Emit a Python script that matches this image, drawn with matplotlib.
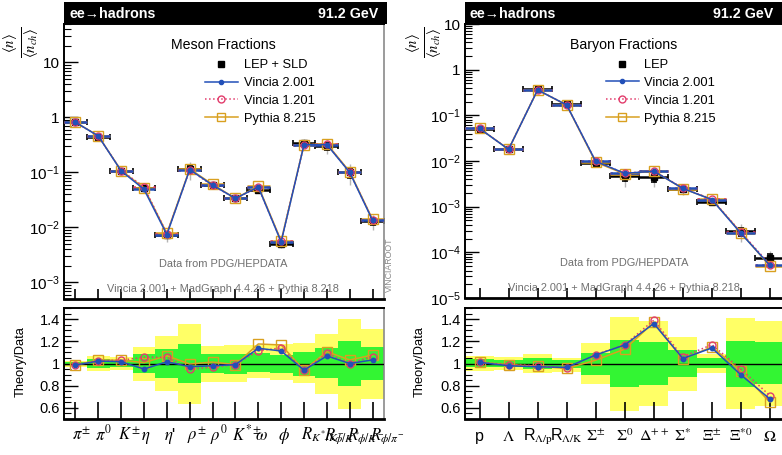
import matplotlib
matplotlib.use("Agg")
import matplotlib.pyplot as plt
import matplotlib.transforms as mtransforms
import numpy as np
from matplotlib.lines import Line2D
from matplotlib.patches import Rectangle
from matplotlib.ticker import FixedLocator, FuncFormatter, LogLocator, MultipleLocator, NullFormatter

plt.rcParams["font.family"] = ["Liberation Sans", "DejaVu Sans"]
plt.rcParams["mathtext.fontset"] = "stix"

W, H = 782, 455

# ---- meson fractions (left) ----
MESON_LABELS = [r"$\pi^{\pm}$", r"$\pi^{0}$", r"$K^{\pm}$", r"$\eta$", r"$\eta$'", r"$\rho^{\pm}$", r"$\rho^{0}$",
                r"$K^{*\pm}$", r"$\omega$", r"$\phi$", r"$R_{K^{*}/K^{-}}$", r"$R_{\phi/K^{*}}$",
                r"$R_{\phi/K^{-}}$", r"$R_{\phi/\pi^{-}}$"]
MESON_DATA = [0.83, 0.45, 0.105, 0.052, 0.0073, 0.116, 0.060, 0.034, 0.048, 0.0049, 0.34, 0.30, 0.10, 0.013]
MESON_V2 = [0.986, 1.022, 1.016, 0.95, 1.016, 0.971, 0.98, 0.99, 1.137, 1.113, 0.94, 1.068, 1.0, 1.032]
MESON_V1 = [0.986, 1.025, 1.03, 1.056, 1.056, 0.95, 0.966, 0.99, 1.115, 1.14, 0.94, 1.092, 1.0, 1.062]
MESON_PY = [0.986, 1.03, 1.03, 1.008, 1.07, 0.995, 1.013, 0.99, 1.176, 1.167, 0.94, 1.107, 1.032, 1.077]
MESON_GREEN_LO = [0.985, 0.962, 0.97, 0.917, 0.87, 0.82, 0.91, 0.905, 0.927, 0.911, 0.89, 0.866, 0.80, 0.85]
MESON_GREEN_HI = [1.015, 1.038, 1.03, 1.083, 1.13, 1.18, 1.09, 1.09, 1.092, 1.077, 1.10, 1.14, 1.20, 1.15]
MESON_YELLOW_LO = [0.97, 0.932, 0.941, 0.84, 0.75, 0.635, 0.836, 0.836, 0.872, 0.85, 0.82, 0.728, 0.59, 0.68]
MESON_YELLOW_HI = [1.025, 1.068, 1.056, 1.15, 1.25, 1.36, 1.16, 1.167, 1.167, 1.173, 1.188, 1.27, 1.40, 1.31]

# ---- baryon fractions (right) ----
BARYON_LABELS = ["p", r"$\Lambda$", r"R$_{\Lambda/\mathrm{p}}$", r"R$_{\Lambda/\mathrm{K}}$",
                 r"$\Sigma^{\pm}$", r"$\Sigma^{0}$", r"$\Delta^{++}$", r"$\Sigma^{*}$", r"$\Xi^{\pm}$",
                 r"$\Xi^{*0}$", r"$\Omega$"]
BARYON_DATA = [0.051, 0.0183, 0.37, 0.175, 0.0091, 0.0046, 0.0044, 0.0024, 0.00125, 0.00029, 7.6e-5]
BARYON_V2 = [1.01, 0.98, 0.97, 0.965, 1.077, 1.167, 1.36, 1.045, 1.14, 0.897, 0.68]
BARYON_V1 = [1.01, 0.99, 0.98, 0.96, 1.08, 1.17, 1.39, 1.06, 1.17, 0.95, 0.71]
BARYON_PY = [1.01, 0.99, 0.975, 0.955, 1.03, 1.13, 1.37, 1.04, 1.15, 0.93, 0.65]
BARYON_GREEN_LO = [0.965, 0.97, 0.95, 0.955, 0.90, 0.79, 0.806, 0.876, 0.955, 0.79, 0.815]
BARYON_GREEN_HI = [1.037, 1.03, 1.046, 1.03, 1.097, 1.21, 1.196, 1.122, 1.046, 1.20, 1.196]
BARYON_YELLOW_LO = [0.935, 0.94, 0.91, 0.926, 0.811, 0.575, 0.62, 0.755, 0.918, 0.59, 0.615]
BARYON_YELLOW_HI = [1.067, 1.055, 1.085, 1.046, 1.187, 1.42, 1.385, 1.24, 1.09, 1.41, 1.38]

BLUE = "#2250b8"
RED = "#e23c6c"
ORANGE = "#d9a020"
GREEN = "#33f533"
YELLOW = "#ffff66"
GREY_TXT = "#707070"


def fbox(x0, y0, x1, y1):
    return [x0 / W, 1 - y1 / H, (x1 - x0) / W, (y1 - y0) / H]


def log_label(v, pos):
    e = int(round(np.log10(v)))
    if e == 0:
        return "1"
    if e == 1:
        return "10"
    return r"$\mathdefault{10^{%d}}$" % e


def header(x0, x1):
    fig.add_artist(Rectangle((x0 / W, 1 - 24 / H), (x1 - x0) / W, 22 / H,
                             transform=fig.transFigure, color="black", lw=0))
    fig.text((x0 + 5) / W, 1 - 13.5 / H, "ee\u2192hadrons", color="white", fontsize=10.3,
             fontweight="bold", va="center", ha="left")
    fig.text((x1 - 9) / W, 1 - 13.5 / H, "91.2 GeV", color="white", fontsize=10.3,
             fontweight="bold", va="center", ha="right")


def panel(ax, rax, labels, data, r_v2, r_v1, r_py, glo, ghi, ylo, yhi, ylim, title, data_label,
          xlab_size, xlab_base, xlab_align):
    n = len(labels)
    x = np.arange(n)
    data = np.array(data)
    glo, ghi, ylo, yhi = map(np.array, (glo, ghi, ylo, yhi))
    models = [
        (np.array(r_py), ORANGE, "-", "s", "none", 6.5, 1.0),
        (np.array(r_v1), RED, ":", "o", "none", 5, 1.0),
        (np.array(r_v2), BLUE, "-", "o", BLUE, 3.2, 1.0),
    ]

    # main panel
    ax.vlines(x, data * ylo, data * yhi, color="#b5b5b5", lw=1, zorder=1)
    ax.errorbar(x, data, xerr=0.5, yerr=[data * (1 - glo), data * (ghi - 1)], fmt="s", color="black",
                ms=4.5, capsize=2.2, elinewidth=1.8, capthick=1.2, zorder=2)
    for r, c, ls, mk, mfc, ms, mew in models:
        mc = data * r
        ax.hlines(mc, x - 0.5, x + 0.5, color=c, lw=1.8, linestyles=ls, zorder=3)
        ax.plot(x, mc, color=c, ls=ls, lw=1.1, marker=mk, mfc=mfc, mec=c, ms=ms, mew=mew, zorder=4)
    ax.set_yscale("log")
    ax.set_ylim(*ylim)
    ax.set_xlim(-0.5, n - 0.5)
    ax.xaxis.set_major_locator(FixedLocator(x))
    ax.yaxis.set_major_locator(LogLocator(base=10, numticks=20))
    ax.yaxis.set_minor_locator(LogLocator(base=10, subs=np.arange(2, 10), numticks=20))
    ax.yaxis.set_major_formatter(FuncFormatter(log_label))
    ax.yaxis.set_minor_formatter(NullFormatter())
    ax.tick_params(axis="x", direction="in", length=7, width=1.2, labelbottom=False)
    ax.tick_params(axis="y", which="major", direction="in", length=10, width=1, labelsize=11, pad=3)
    ax.tick_params(axis="y", which="minor", direction="in", length=5, width=0.8)

    ax.text(0.497, 0.922, title, transform=ax.transAxes, ha="center", va="center", fontsize=10.2)
    handles = [
        Line2D([], [], marker="s", color="black", ls="none", ms=5),
        Line2D([], [], color=BLUE, marker="o", ms=3, lw=1.1),
        Line2D([], [], color=RED, ls=":", marker="o", mfc="none", ms=5, lw=1.1),
        Line2D([], [], color=ORANGE, marker="s", mfc="none", ms=6, lw=1.1),
    ]
    ax.legend(handles, [data_label, "Vincia 2.001", "Vincia 1.201", "Pythia 8.215"], loc="upper left",
              bbox_to_anchor=(0.44, 0.872), frameon=False, fontsize=9.3, borderpad=0, borderaxespad=0,
              handlelength=2.55, handletextpad=0.45, labelspacing=0.45)
    ax.text(0.497, 0.127, "Data from PDG/HEPDATA", transform=ax.transAxes, ha="center", va="center",
            fontsize=7.9, color=GREY_TXT)
    ax.text(0.497, 0.036, "Vincia 2.001 + MadGraph 4.4.26 + Pythia 8.218", transform=ax.transAxes,
            ha="center", va="center", fontsize=7.9, color=GREY_TXT)

    # ratio panel
    rax.bar(x, yhi - ylo, bottom=ylo, width=1.0, color=YELLOW, lw=0, zorder=1)
    rax.bar(x, ghi - glo, bottom=glo, width=1.0, color=GREEN, lw=0, zorder=2)
    rax.axhline(1, color="black", lw=1, zorder=3)
    for r, c, ls, mk, mfc, ms, mew in models:
        rax.plot(x, r, color=c, ls=ls, lw=1.1, marker=mk, mfc=mfc, mec=c, ms=ms, mew=mew, zorder=4)
    rax.set_xlim(-0.5, n - 0.5)
    rax.set_ylim(0.5, 1.5)
    rax.set_xticks(x)
    rax.set_xticklabels([])
    # category labels on a common baseline below the ratio panel
    base = -(xlab_base - 419) / 111
    trans = mtransforms.blended_transform_factory(rax.transData, rax.transAxes)
    for xi, lab in zip(x, labels):
        if xlab_align == "left":
            off = mtransforms.ScaledTranslation(-3 / 100, 0, fig.dpi_scale_trans)
            rax.text(xi, base, lab, transform=trans + off, ha="left", va="baseline", fontsize=xlab_size,
                     clip_on=False)
        else:
            rax.text(xi, base, lab, transform=trans, ha="center", va="baseline", fontsize=xlab_size,
                     clip_on=False)
    rax.yaxis.set_major_locator(MultipleLocator(0.2))
    rax.yaxis.set_minor_locator(MultipleLocator(0.05))
    rax.yaxis.set_major_formatter(FuncFormatter(lambda v, p: "1" if abs(v - 1) < 1e-9 else "%.1f" % v))
    rax.tick_params(axis="x", direction="in", length=12, width=1.2)
    rax.tick_params(axis="y", which="major", direction="in", length=10, width=1, labelsize=10.5, pad=3)
    rax.tick_params(axis="y", which="minor", direction="in", length=5, width=0.8)

    for a in (ax, rax):
        for s in ("left", "bottom", "top"):
            a.spines[s].set_linewidth(1.4)
        a.spines["right"].set_color("#8a8a8a")
        a.spines["right"].set_linewidth(1.2)
    ax.spines["bottom"].set_linewidth(2)
    rax.spines["bottom"].set_linewidth(2)


fig = plt.figure(figsize=(W / 100, H / 100), dpi=100)

axL = fig.add_axes(fbox(64, 24, 384, 299))
raxL = fig.add_axes(fbox(64, 308, 384, 419))
axR = fig.add_axes(fbox(465, 24, 784.5, 298))
raxR = fig.add_axes(fbox(465, 308, 784.5, 419))

panel(axL, raxL, MESON_LABELS, MESON_DATA, MESON_V2, MESON_V1, MESON_PY, MESON_GREEN_LO, MESON_GREEN_HI,
      MESON_YELLOW_LO, MESON_YELLOW_HI, (5e-4, 50), "Meson Fractions", "LEP + SLD", 12, 440, "left")
panel(axR, raxR, BARYON_LABELS, BARYON_DATA, BARYON_V2, BARYON_V1, BARYON_PY, BARYON_GREEN_LO, BARYON_GREEN_HI,
      BARYON_YELLOW_LO, BARYON_YELLOW_HI, (1e-5, 10), "Baryon Fractions", "LEP", 11.5, 441, "center")

header(64, 387)
header(465, 782)

ylab = r"$\frac{\langle n\rangle}{\langle n_{ch}\rangle}$"
fig.text(22 / W, 1 - 42 / H, ylab, rotation=90, ha="center", va="center", fontsize=15)
fig.text(425 / W, 1 - 42 / H, ylab, rotation=90, ha="center", va="center", fontsize=15)
fig.text(21 / W, 1 - 362 / H, "Theory/Data", rotation=90, ha="center", va="center", fontsize=9.3)
fig.text(420 / W, 1 - 362 / H, "Theory/Data", rotation=90, ha="center", va="center", fontsize=9.3)
fig.text(389 / W, 1 - 265 / H, "VINCIAROOT", rotation=90, ha="center", va="center", fontsize=6.3,
         color="#8a8a8a")

fig.savefig("out.png", dpi=100)
